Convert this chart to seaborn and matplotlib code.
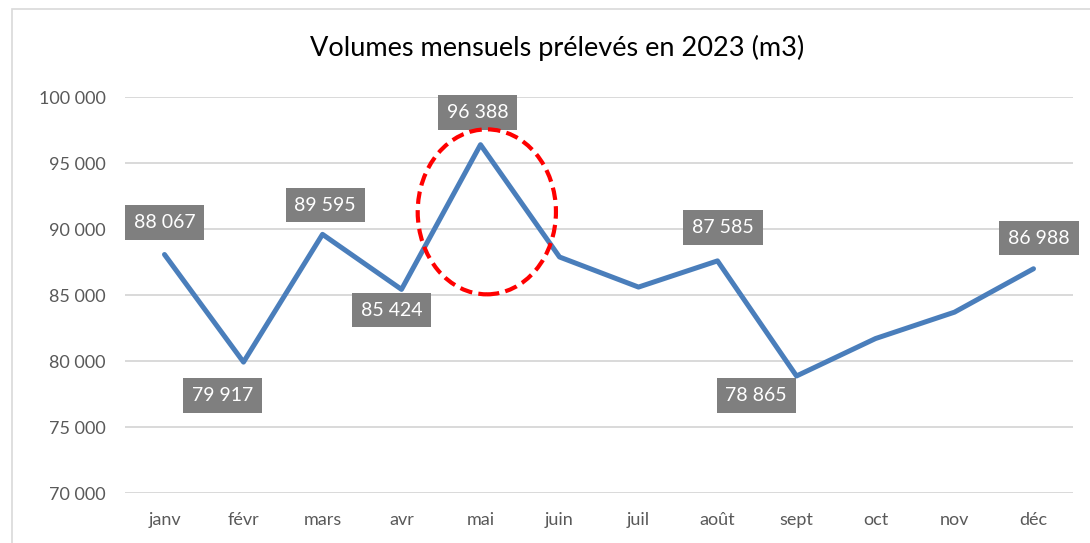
import pandas as pd
import numpy as np
import matplotlib.pyplot as plt
from matplotlib.patches import Ellipse, Rectangle
from matplotlib.ticker import FuncFormatter
import seaborn as sb

# Monthly volumes (m3)
months = ['janv', 'févr', 'mars', 'avr', 'mai', 'juin', 'juil', 'août', 'sept', 'oct', 'nov', 'déc']
volumes = [88067, 79917, 89595, 85424, 96388, 87880, 85600, 87585, 78865, 81700, 83700, 86988]

# which points carry a label
labelled = ['janv', 'févr', 'mars', 'avr', 'mai', 'août', 'sept', 'déc']

df = pd.DataFrame({'mois': months, 'volume': volumes})

sb.set_style('white')
plt.rcParams['font.family'] = ['Lato', 'DejaVu Sans']

fig = plt.figure(figsize=(10.9, 5.43), dpi=100)
ax = fig.add_axes([125/1090, 1-493/543, (1073-125)/1090, (493-97)/543])

sb.lineplot(data=df, x='mois', y='volume', ax=ax, color='#4a7ebb', linewidth=3.6,
            sort=False, zorder=3)

ax.set_xlim(-0.5, len(months) - 0.5)
ax.set_ylim(70000, 100000)
ax.set_yticks(np.arange(70000, 100001, 5000))
ax.yaxis.set_major_formatter(FuncFormatter(lambda v, p: f'{int(v):,}'.replace(',', ' ')))
ax.grid(axis='y', color='#d9d9d9', linewidth=1.4)
ax.grid(axis='x', visible=False)
for s in ax.spines.values():
    s.set_visible(False)
ax.tick_params(axis='both', length=0, labelsize=13, colors='#595959')
ax.tick_params(axis='y', pad=14)
ax.tick_params(axis='x', pad=14)
ax.set_xlabel('')
ax.set_ylabel('')

# data labels (grey boxes)
offsets = {'janv': (0, 23), 'févr': (-15, -24), 'mars': (2, 21), 'avr': (-7, -15),
           'mai': (-2, 23), 'août': (4, 24), 'sept': (-29, -14), 'déc': (4, 22)}
for i, (m, v) in enumerate(zip(months, volumes)):
    if m in labelled:
        dx, dy = offsets[m]
        ax.annotate(f'{v:,}'.replace(',', ' '), (i, v), xytext=(dx, dy),
                    textcoords='offset points', ha='center', va='center',
                    color='white', fontsize=14,
                    bbox=dict(boxstyle='square,pad=0.45', fc='#7f7f7f', ec='none'),
                    zorder=5)

# red dashed circle around the peak
ax.add_patch(Ellipse((4.08, 91300), 1.75, 12500, fill=False, edgecolor='#ff0000',
                     linewidth=3, linestyle=(0, (3, 1.5)), zorder=6))

fig.text(557/1090, 1-48/543, 'Volumes mensuels prélevés en 2023 (m3)',
         ha='center', va='center', fontsize=19.5, color='#000000')

# chart border
fig.patches.append(Rectangle((12/1090, -0.05), 1.05, 1-9/543+0.05,
                             transform=fig.transFigure, fill=False,
                             edgecolor='#d9d9d9', linewidth=1.2))

fig.savefig('out.png', dpi=100)
